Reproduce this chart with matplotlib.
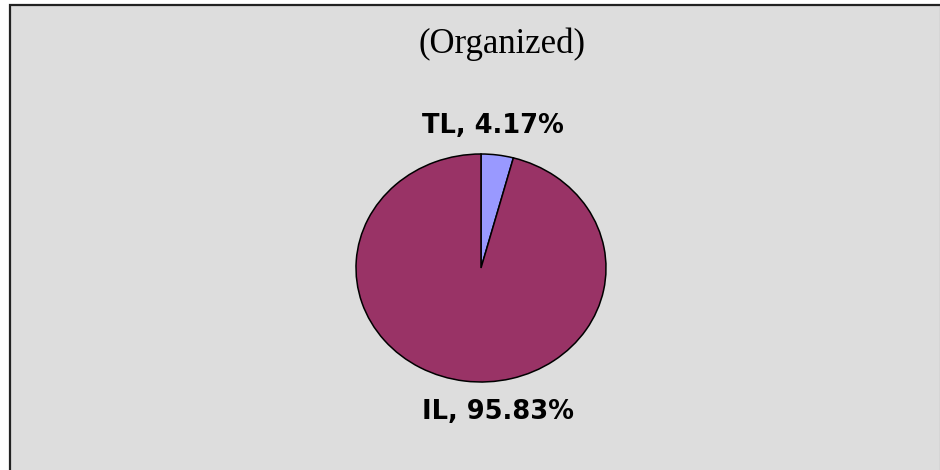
import matplotlib
matplotlib.use("Agg")
import matplotlib.pyplot as plt
from matplotlib.patches import Rectangle
from matplotlib.lines import Line2D

W, H = 940, 470

# ------------------ data ------------------
labels = ["TL", "IL"]
shares = [4.17, 95.83]
colors = ["#9999FF", "#993366"]
title = "(Organized)"


def fx(px):
    return px / W


def fy(py):
    return 1 - py / H


fig = plt.figure(figsize=(W / 100, H / 100), dpi=100, facecolor="white")

# chart area background + border (right/bottom edges fall outside the image)
fig.patches.append(Rectangle((fx(9.5), fy(480)), fx(940), fy(5.5) - fy(480),
                             transform=fig.transFigure, facecolor="#DDDDDD",
                             edgecolor="#222222", linewidth=1.6, zorder=-2))
fig.lines.append(Line2D([fx(939.5), fx(939.5)], [0, fy(6)], transform=fig.transFigure,
                        color="#BBBBBB", linewidth=1, zorder=-1))

# ------------------ pie (slightly wider than tall) ------------------
left, right, top, bottom = 356, 606, 154, 382
ax = fig.add_axes([fx(left), fy(bottom), fx(right - left), fy(top) - fy(bottom)])
ax.set_zorder(1)
wedges, _ = ax.pie(shares, colors=colors, startangle=90, counterclock=False,
                   radius=1, wedgeprops=dict(edgecolor="black", linewidth=1.1))
for w in wedges:
    w.set_clip_on(False)
ax.set_aspect("auto")
ax.set_xlim(-1, 1)
ax.set_ylim(-1, 1)
ax.axis("off")

# ------------------ texts ------------------
fig.text(fx(502), fy(53), title, ha="center", va="baseline",
         fontsize=25, family="Liberation Serif")

fig.text(fx(493), fy(133), f"{labels[0]}, {shares[0]:.2f}%", ha="center", va="baseline",
         fontsize=18.5, fontweight="bold", family="DejaVu Sans")
fig.text(fx(498), fy(419), f"{labels[1]}, {shares[1]:.2f}%", ha="center", va="baseline",
         fontsize=18.5, fontweight="bold", family="DejaVu Sans")

fig.savefig("out.png", dpi=100, facecolor="white")
